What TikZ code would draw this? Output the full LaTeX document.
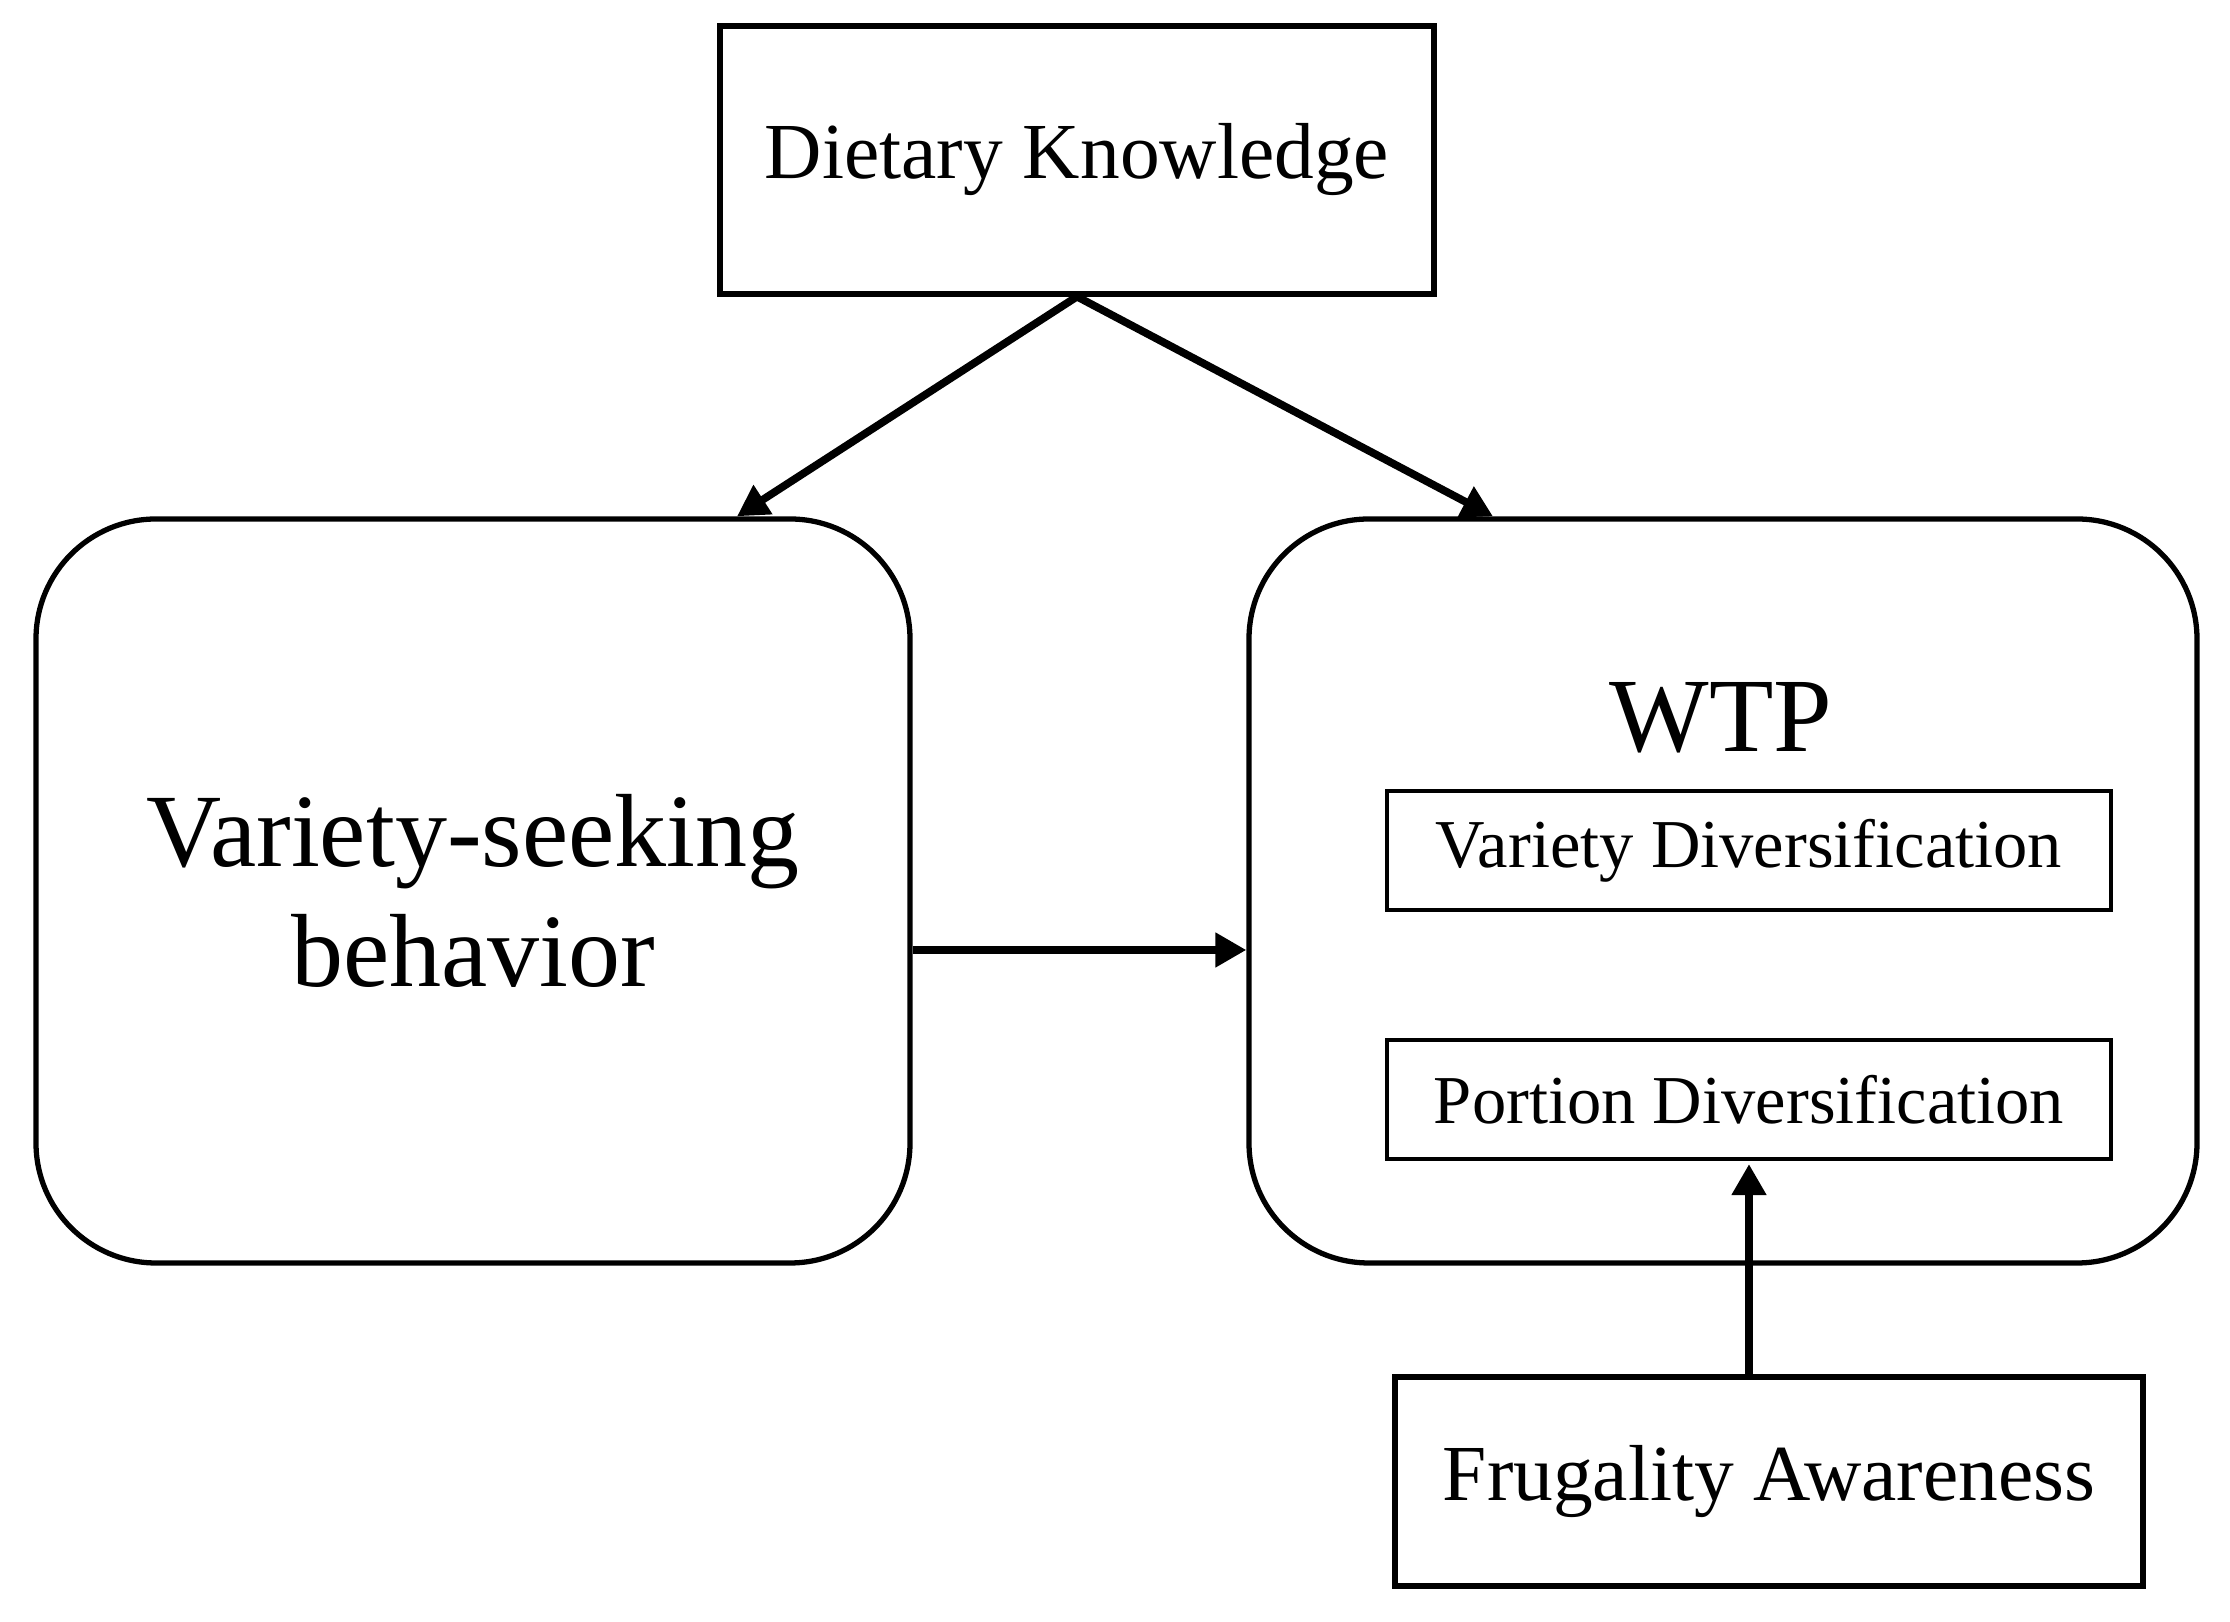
\documentclass[tikz,border=0pt]{standalone}
\usepackage{fontspec}
\setmainfont{Liberation Serif}
\usetikzlibrary{arrows.meta,positioning,calc}

\begin{document}
\begin{tikzpicture}[
  >={Triangle[length=3.1mm,width=3.3mm]},
  plain/.style={draw, line width=1.5pt, inner sep=0pt, align=center},
  bigbox/.style={draw, line width=1.5pt, rounded corners=12mm, inner sep=0pt,
                 minimum width=#1, minimum height=74.4mm, align=center},
  subbox/.style={draw, line width=0.9pt, inner sep=0pt,
                 minimum width=72.4mm, minimum height=11.9mm},
  link/.style={->, line width=2.2pt},
]
\useasboundingbox (0,0) rectangle (22.30,16.22);

% moderators
\node[plain, minimum width=71.4mm, minimum height=26.8mm,
      font=\fontsize{22.6}{27}\selectfont] (diet) at (10.77,14.62) {Dietary Knowledge};
\node[plain, minimum width=74.8mm, minimum height=20.9mm,
      font=\fontsize{22.6}{27}\selectfont] (frug) at (17.69,1.405) {Frugality Awareness};

% main constructs
\node[bigbox=87.4mm, font=\fontsize{29.6}{34}\selectfont] (vsb) at (4.73,7.31)
  {Variety-seeking\\behavior};
\node[bigbox=94.8mm] (wtp) at (17.23,7.31) {};
\node[font=\fontsize{30}{34}\selectfont] (wtplab) at (17.21,9.04) {WTP};

% WTP dimensions
\node[subbox, font=\fontsize{19.5}{23}\selectfont] (vdiv) at (17.49,7.715) {Variety Diversification};
\node[subbox, font=\fontsize{19.5}{23}\selectfont] (pdiv) at (17.49,5.225) {Portion Diversification};

% paths
\draw[link] (diet.south) -- (7.37,13.00 |- vsb.north);
\draw[link] (diet.south) -- (14.93,13.00 |- wtp.north);
\draw[link] ($(vsb.east)+(0,-0.59)$) -- ($(wtp.west)+(0,-0.59)$);
\draw[link, shorten >=1pt] (pdiv.south |- frug.north) -- (pdiv.south);
\end{tikzpicture}
\end{document}
